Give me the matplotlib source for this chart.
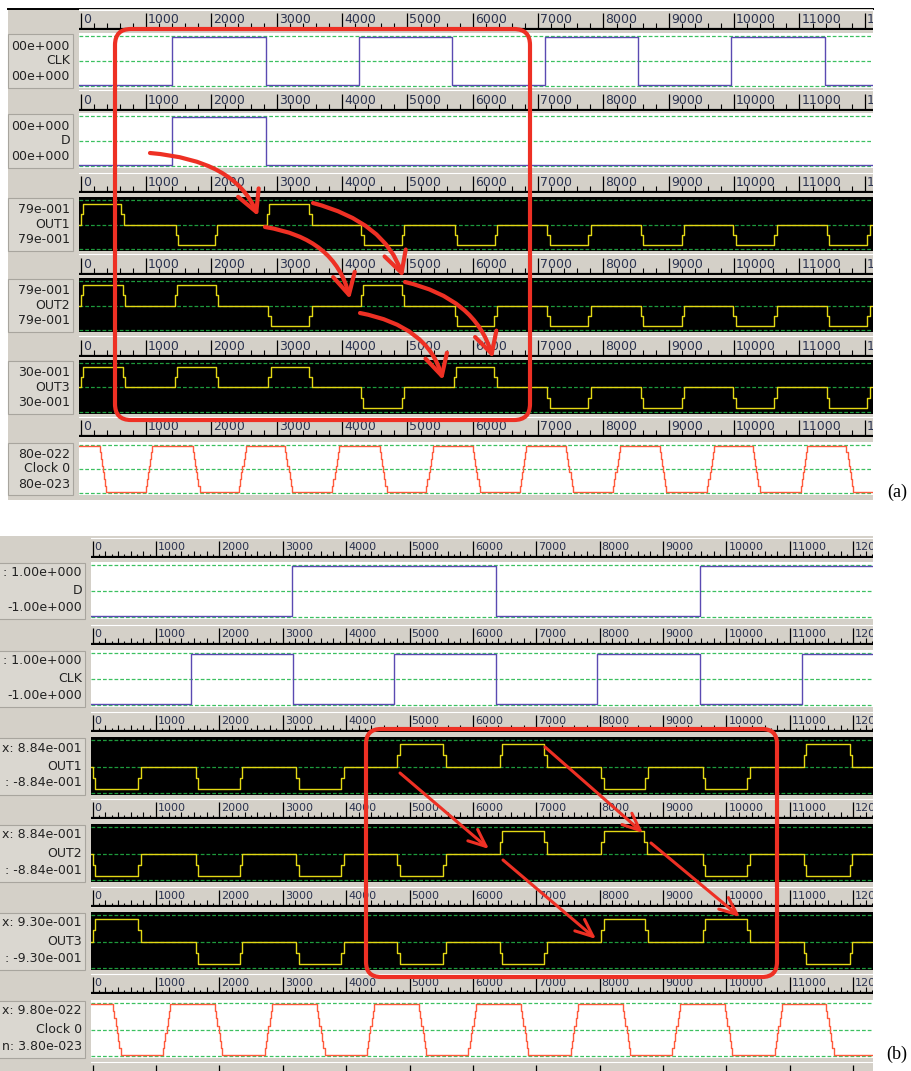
"""Re-draw of the two waveform-viewer screenshots (a) and (b) with their red hand annotations."""
import matplotlib.pyplot as plt
import numpy as np
from matplotlib.patches import Rectangle, FancyBboxPatch, FancyArrowPatch
from matplotlib.path import Path
from matplotlib.transforms import offset_copy

# ---------------- data (simulator time units, as read off the rulers) ----------------
# panel (a) -- square inputs: times where the level toggles (both start low)
A_CLK_EDGES = [1400, 2830, 4255, 5685, 7100, 8530, 9960, 11390]
A_D_EDGES = [1400, 2830]
# ternary outputs: transition start times and the level reached (1 / 0 / -1), all start at 0
A_OUT1_T = [0, 620, 1450, 2050, 2845, 3500, 4295, 4910, 5725, 6335, 7140, 7765, 8570, 9195, 9985, 10610, 11415, 12035]
A_OUT1_L = [1, 0, -1, 0, 1, 0, -1, 0, -1, 0, -1, 0, -1, 0, -1, 0, -1, 0]
A_OUT2_T = [0, 640, 1440, 2065, 2865, 3495, 4285, 4910, 5725, 6330, 7140, 7765, 8570, 9195, 9985, 10610, 11415, 12035]
A_OUT2_L = [1, 0, 1, 0, -1, 0, 1, 0, -1, 0, -1, 0, -1, 0, -1, 0, -1, 0]
A_OUT3_T = [0, 640, 1440, 2065, 2865, 3495, 4285, 4910, 5710, 6330, 7140, 7765, 8570, 9195, 9985, 10610, 11415, 12035]
A_OUT3_L = [1, 0, 1, 0, 1, 0, -1, 0, 1, 0, -1, 0, -1, 0, -1, 0, -1, 0]
# "Clock 0": start of each falling / rising ramp (starts high)
A_CLK0_FALL = [290, 1717, 3130, 4580, 6005, 7430, 8865, 10290, 11720]
A_CLK0_RISE = [997, 2425, 3850, 5290, 6720, 8150, 9590, 11020]
A_LABELS = [("00e+000", "CLK", "00e+000"), ("00e+000", "D", "00e+000"),
            ("79e-001", "OUT1", "79e-001"), ("79e-001", "OUT2", "79e-001"),
            ("30e-001", "OUT3", "30e-001"), ("80e-022", "Clock 0", "80e-023")]

# panel (b)
B_D_EDGES = [3150, 6360, 9580]
B_CLK_EDGES = [1560, 3160, 4755, 6360, 7965, 9580, 11185]
B_OUT1_T = [0, 720, 1625, 2324, 3213, 3922, 4806, 5531, 6424, 7129, 8028, 8722, 9626, 10330, 11220, 11945]
B_OUT1_L = [-1, 0, -1, 0, -1, 0, 1, 0, 1, 0, -1, 0, -1, 0, 1, 0]
B_OUT2_T = [0, 720, 1625, 2324, 3213, 3922, 4806, 5531, 6424, 7129, 8028, 8706, 9626, 10330, 11220, 11945]
B_OUT2_L = [-1, 0, -1, 0, -1, 0, -1, 0, 1, 0, 1, 0, -1, 0, -1, 0]
B_OUT3_T = [0, 720, 1625, 2324, 3213, 3922, 4806, 5531, 6424, 7129, 8028, 8722, 9626, 10330, 11220, 11945]
B_OUT3_L = [1, 0, -1, 0, -1, 0, -1, 0, -1, 0, 1, 0, 1, 0, -1, 0]
B_CLK0_FALL = [325, 1928, 3540, 5148, 6755, 8365, 9972, 11570]
B_CLK0_RISE = [1107, 2715, 4322, 5930, 7540, 9148, 10760]
B_LABELS = [(": 1.00e+000", "D", "-1.00e+000"), (": 1.00e+000", "CLK", "-1.00e+000"),
            ("x: 8.84e-001", "OUT1", ": -8.84e-001"), ("x: 8.84e-001", "OUT2", ": -8.84e-001"),
            ("x: 9.30e-001", "OUT3", ": -9.30e-001"), ("x: 9.80e-022", "Clock 0", "n: 3.80e-023")]

# ---------------- style / layout (pixels of the 912x1071 image) ----------------
W, H = 912, 1071
GRAY = "#d4d0c8"
BOXC = "#dad7d0"
BLUE = "#5a4ab2"
YEL = "#e4d814"
ORG = "#ff5a3c"
RED = "#ee3024"
GRN_W = "#3cc060"
GRN_B = "#1e9a3c"
TXT = "#2b3350"

PA = dict(x0=79.5, x1=873, xlim=(-20, 12126), minor=200, txt_y=3, tsize=9,
          box=(8, 65), lab_x=70, lab_dy=(-14.5, 0.5, 15.5),
          rulers=[29, 110, 192, 274, 356, 436],
          plots=[(33, 88), (113, 168), (197, 251), (278, 332), (360, 414), (442, 495)])
PB = dict(x0=91, x1=873, xlim=(-24, 12311), minor=100, txt_y=5, tsize=8,
          box=(-4, 89), lab_x=82, lab_dy=(-18, 0.5, 17),
          rulers=[557, 644, 731, 818, 906, 993, 1081],
          plots=[(562, 619), (650, 707), (737, 795), (824, 882), (912, 970), (1000, 1058)])

fig = plt.figure(figsize=(W / 100, H / 100), dpi=100)


def px_axes(x0, y0, x1, y1, z):
    return fig.add_axes([x0 / W, 1 - y1 / H, (x1 - x0) / W, (y1 - y0) / H], zorder=z)


def square_wave(edges, t_end):
    xs, ys, lv = [-1000], [-1], -1
    for t in edges:
        xs += [t, t]
        ys += [lv, -lv]
        lv = -lv
    xs.append(t_end)
    ys.append(lv)
    return np.array(xs), np.array(ys, dtype=float)


def ramp_wave(times, levels, start, ramp, steps, t_end):
    xs, ys, cur = [-1000], [start], start
    for t, lv in zip(times, levels):
        for k in range(steps):
            x = t + ramp * k / max(steps - 1, 1)
            xs += [x, x]
            ys += [cur + (lv - cur) * k / steps, cur + (lv - cur) * (k + 1) / steps]
        cur = lv
    xs.append(t_end)
    ys.append(cur)
    return np.array(xs), np.array(ys, dtype=float)


def clock_levels(falls, rises):
    ev = sorted([(t, -1) for t in falls] + [(t, 1) for t in rises])
    return [e[0] for e in ev], [e[1] for e in ev]


def strip(p, top, bot, dark):
    ax = px_axes(p["x0"], top, p["x1"], bot, 2)
    ax.set_facecolor("black" if dark else "white")
    ax.set_xlim(*p["xlim"])
    unit = (bot - top - 5) / 2
    ax.set_ylim(-1 - 2 / unit, 1 + 3 / unit)
    ax.set_xticks([])
    ax.set_yticks([])
    for s in ax.spines.values():
        s.set_visible(False)
    for y in (-1, 0, 1):
        ax.axhline(y, color=GRN_B if dark else GRN_W, lw=0.9, ls=(0, (3, 1.6)))
    return ax


def ruler(p, bot, labels=True):
    ax = px_axes(p["x0"], bot - 20, p["x1"], bot + 1, 2)
    ax.set_facecolor(GRAY)
    ax.set_xlim(*p["xlim"])
    ax.set_ylim(-1, 20)
    ax.set_xticks([])
    ax.set_yticks([])
    for s in ax.spines.values():
        s.set_visible(False)
    major = np.arange(0, 12001, 1000)
    minor = [t for t in np.arange(0, 12400, p["minor"]) if t % 1000]
    ax.vlines(major, 0, 16, color="black", lw=0.9)
    for t in minor:
        tall = p["minor"] == 200 or t % 200 == 0
        ax.vlines(t, 0, 6 if tall else 3.5, color="black", lw=0.8)
    ax.axhline(0, color="black", lw=1.6)
    ax.axhline(19.5, color="white", lw=0.8)
    if not labels:
        return
    tr = offset_copy(ax.transData, fig=fig, x=2, y=0, units="dots")
    for t in major:
        ax.text(t, p["txt_y"], str(t), transform=tr, ha="left", va="bottom",
                fontsize=p["tsize"], color=TXT, clip_on=True)


# background (pixel coordinates)
bg = fig.add_axes([0, 0, 1, 1], zorder=0)
bg.set_xlim(0, W)
bg.set_ylim(H, 0)
bg.axis("off")
bg.add_patch(Rectangle((8, 9), 873 - 8, 500 - 9, color=GRAY, lw=0))
bg.plot([8, 873], [8.5, 8.5], color="black", lw=1.4)
bg.add_patch(Rectangle((0, 536), 873, H - 536, color=GRAY, lw=0))


def panel(p, labels, waves, dark_rows):
    for r in p["rulers"]:
        # a ruler that runs past the bottom edge only shows its tick tops
        ruler(p, r, labels=r + 1 < H)
    for i, ((top, bot), lab, (xs, ys, col)) in enumerate(zip(p["plots"], labels, waves)):
        bx, bw = p["box"]
        bg.add_patch(Rectangle((bx, top + 1), bw, bot - top - 1, fc=BOXC, ec="#a8a59e", lw=0.8))
        mid = (top + bot) / 2
        for txt, dy in zip(lab, p["lab_dy"]):
            bg.text(p["lab_x"], mid + dy, txt, ha="right", va="center", fontsize=9, color="#222222")
        ax = strip(p, top, bot, i in dark_rows)
        ax.plot(xs, ys, color=col, lw=1.0)


def sq(edges, amp=0.96):
    xs, ys = square_wave(edges, 13000)
    return xs, ys * amp


def tern(times, levels, start=0, amp=0.85):
    xs, ys = ramp_wave(times, levels, start, 40, 2, 13000)
    return xs, ys * amp


def clk0(falls, rises, ramp):
    t, lv = clock_levels(falls, rises)
    xs, ys = ramp_wave(t, lv, 1, ramp, 7, 13000)
    return xs, ys * 0.97


waves_a = [(*sq(A_CLK_EDGES), BLUE), (*sq(A_D_EDGES), BLUE),
           (*tern(A_OUT1_T, A_OUT1_L), YEL), (*tern(A_OUT2_T, A_OUT2_L), YEL),
           (*tern(A_OUT3_T, A_OUT3_L), YEL), (*clk0(A_CLK0_FALL, A_CLK0_RISE, 100), ORG)]
waves_b = [(*sq(B_D_EDGES), BLUE), (*sq(B_CLK_EDGES), BLUE),
           (*tern(B_OUT1_T, B_OUT1_L), YEL), (*tern(B_OUT2_T, B_OUT2_L), YEL),
           (*tern(B_OUT3_T, B_OUT3_L), YEL), (*clk0(B_CLK0_FALL, B_CLK0_RISE, 120), ORG)]
panel(PA, A_LABELS, waves_a, {2, 3, 4})
panel(PB, B_LABELS, waves_b, {2, 3, 4})

bg.text(897, 492, "(a)", ha="center", va="center", fontsize=13, family="Liberation Serif")
bg.text(897, 1054, "(b)", ha="center", va="center", fontsize=13, family="Liberation Serif")

# ---------------- red hand annotations (overlay, pixel coordinates) ----------------
ov = fig.add_axes([0, 0, 1, 1], zorder=5)
ov.set_xlim(0, W)
ov.set_ylim(H, 0)
ov.axis("off")
ov.patch.set_alpha(0)

ov.add_patch(FancyBboxPatch((115, 29), 415, 391, boxstyle="round,pad=0,rounding_size=16",
                            fc="none", ec=RED, lw=3))
ov.add_patch(FancyBboxPatch((366, 729), 411, 248, boxstyle="round,pad=0,rounding_size=15",
                            fc="none", ec=RED, lw=3))

curves_a = [((150, 153), (235, 160), (258, 216)),
            ((265, 227), (335, 238), (350, 299)),
            ((313, 203), (385, 222), (403, 277)),
            ((360, 313), (428, 326), (443, 380)),
            ((405, 282), (475, 298), (493, 358))]
for p0, p1, p2 in curves_a:
    path = Path([p0, p1, p2], [Path.MOVETO, Path.CURVE3, Path.CURVE3])
    ov.add_patch(FancyArrowPatch(path=path, arrowstyle="->,head_length=0.75,head_width=0.4",
                                 mutation_scale=20, color=RED, lw=3, transform=ov.transData))

lines_b = [((400, 773), (489, 849)), ((545, 747), (643, 833)),
           ((503, 860), (596, 939)), ((651, 843), (740, 917))]
for a, b in lines_b:
    ov.add_patch(FancyArrowPatch(a, b, arrowstyle="->,head_length=0.7,head_width=0.3",
                                 mutation_scale=18, color=RED, lw=2.2,
                                 shrinkA=0, shrinkB=0, transform=ov.transData))

fig.savefig("out.png", dpi=100, facecolor="white")
